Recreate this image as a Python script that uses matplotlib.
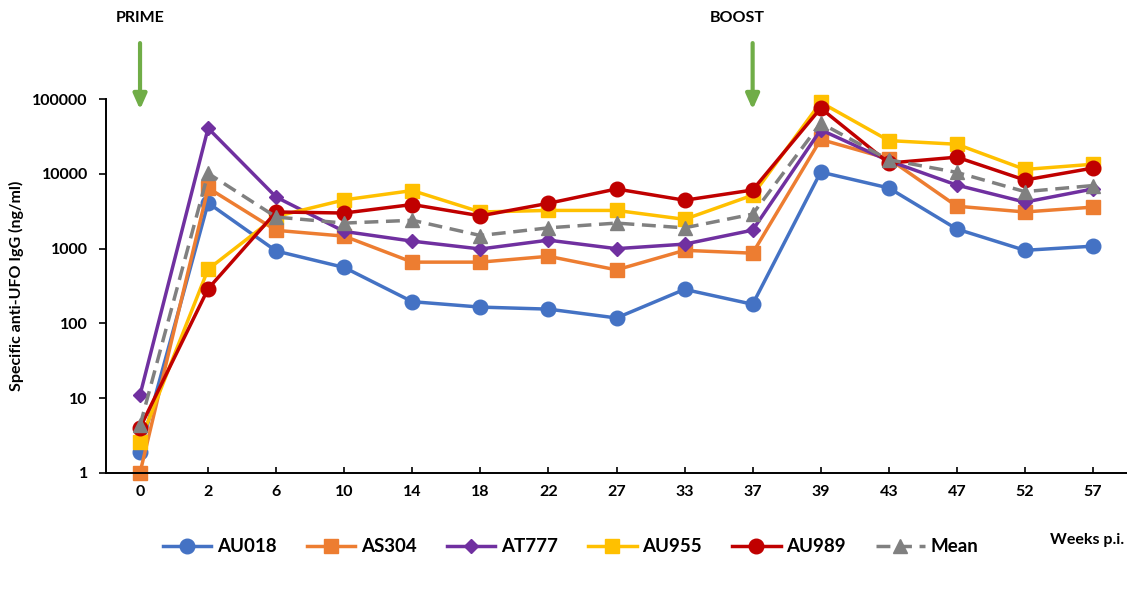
import matplotlib
matplotlib.use("Agg")
import matplotlib.pyplot as plt

plt.rcParams['font.family'] = ['Lato', 'DejaVu Sans']
plt.rcParams['font.weight'] = 'bold'

# Wochen nach Immunisierung (kategoriale Achse)
weeks = ["0", "2", "6", "10", "14", "18", "22", "27", "33", "37", "39", "43", "47", "52", "57"]

au018 = [1.9, 4100, 930, 560, 195, 165, 155, 118, 285, 180, 10600, 6500, 1830, 950, 1080]
as304 = [1.0, 6500, 1760, 1470, 660, 660, 790, 520, 950, 870, 29000, 16000, 3700, 3100, 3600]
at777 = [11, 41000, 4900, 1700, 1260, 990, 1300, 1000, 1150, 1770, 39000, 15000, 7100, 4200, 6300]
au955 = [2.6, 530, 2700, 4500, 6000, 3100, 3250, 3250, 2470, 5200, 91000, 28000, 25000, 11500, 13500]
au989 = [4.0, 290, 3100, 3000, 3900, 2750, 4050, 6300, 4450, 6100, 76000, 14000, 16800, 8300, 12000]
mean = [4.3, 10200, 2650, 2200, 2400, 1500, 1900, 2200, 1900, 2900, 48000, 15500, 10500, 5800, 7000]

series = [
    ("AU018", au018, "#4472C4", "o", 10.5, "-"),
    ("AS304", as304, "#ED7D31", "s", 10.0, "-"),
    ("AT777", at777, "#7030A0", "D", 7.5, "-"),
    ("AU955", au955, "#FFC000", "s", 10.0, "-"),
    ("AU989", au989, "#C00000", "o", 10.5, "-"),
    ("Mean", mean, "#808080", "^", 10.0, "--"),
]

fig = plt.figure(figsize=(11.27, 5.9), dpi=100)
ax = fig.add_axes([106 / 1127, 1 - 472.7 / 590, 1 - 106 / 1127, (472.7 - 99.3) / 590])

x = list(range(len(weeks)))
for name, vals, col, mk, ms, ls in series:
    ax.plot(x, vals, color=col, marker=mk, markersize=ms, linewidth=2.5,
            linestyle=ls, label=name, clip_on=False,
            dashes=(4, 2.2) if ls == "--" else (None, None))

ax.set_yscale("log")
ax.set_ylim(1, 100000)
ax.set_xlim(-0.5, len(weeks) - 0.5)
ax.set_yticks([1, 10, 100, 1000, 10000, 100000])
ax.set_yticklabels(["1", "10", "100", "1000", "10000", "100000"])
ax.minorticks_off()
ax.set_xticks(x)
ax.set_xticklabels(weeks)
ax.tick_params(axis="y", direction="out", length=5, width=1.2, labelsize=11.5, pad=8)
ax.tick_params(axis="x", direction="in", length=4, width=1.2, labelsize=11.5, pad=9)

for s in ["top", "right"]:
    ax.spines[s].set_visible(False)
for s in ["left", "bottom"]:
    ax.spines[s].set_linewidth(1.4)

ax.set_ylabel("Specific anti-UFO IgG (ng/ml)", fontsize=11.5, fontweight="bold", labelpad=6)

# Pfeile fuer Prime und Boost
for idx, txt, dx in [(0, "PRIME", 0.0), (9, "BOOST", -0.23)]:
    ax.annotate("", xy=(idx, 1e5 * 10 ** (-13 / 74.7)), xytext=(idx, 1e5 * 10 ** (59 / 74.7)),
                xycoords="data", textcoords="data", annotation_clip=False,
                arrowprops=dict(arrowstyle="-|>,head_length=0.9,head_width=0.4",
                                color="#70AD47", lw=3))
    ax.text(idx + dx, 1e5 * 10 ** (81 / 74.7), txt, ha="center", va="center",
            fontsize=11.5, fontweight="bold", clip_on=False)

fig.text(1124 / 1127, 1 - 540 / 590, "Weeks p.i.", ha="right", va="center",
         fontsize=11.5, fontweight="bold")

leg = fig.legend(loc="center", bbox_to_anchor=(0.506, 0.073), ncol=6, frameon=False,
                 fontsize=13.5, handlelength=2.6, columnspacing=1.6, handletextpad=0.3)
for t in leg.get_texts():
    t.set_fontweight("bold")

fig.savefig("out.png", dpi=100)
